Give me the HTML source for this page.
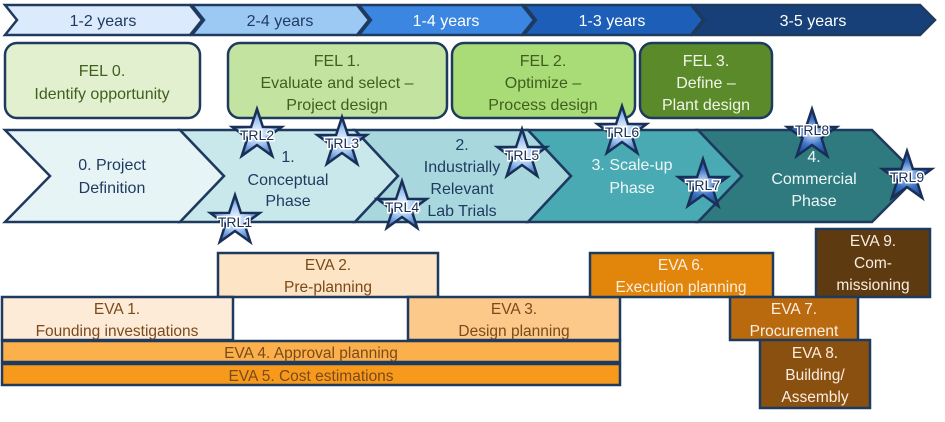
<!DOCTYPE html>
<html><head><meta charset="utf-8"><style>
html,body{margin:0;padding:0;background:#fff}
svg{display:block}
text{font-family:"Liberation Sans",sans-serif}
</style></head><body>
<svg width="945" height="422" viewBox="0 0 945 422" xmlns="http://www.w3.org/2000/svg">
<defs>
<radialGradient id="sg" cx="50%" cy="50%" r="55%">
<stop offset="0" stop-color="#f2f7ff"/><stop offset="0.5" stop-color="#9cc3f0"/><stop offset="1" stop-color="#2d62b8"/>
</radialGradient>
<radialGradient id="sg2" cx="50%" cy="50%" r="55%">
<stop offset="0" stop-color="#dbe8fb"/><stop offset="0.5" stop-color="#3d74c8"/><stop offset="1" stop-color="#163f86"/>
</radialGradient>
<symbol id="star" viewBox="-27 -27 54 54" overflow="visible">
<polygon points="0,-26 5.9,-8.1 24.7,-8 9.5,3.1 15.3,21 0,10 -15.3,21 -9.5,3.1 -24.7,-8 -5.9,-8.1" stroke="#1a2f55" stroke-width="2.5" stroke-linejoin="miter"/>
</symbol>
</defs>
<g stroke="#1f3a5f" stroke-width="2.5" stroke-linejoin="miter">
<!-- top timeline -->
<polygon points="5,5 190,5 202,20 190,35 5,35 17,20" fill="#dbeafc"/>
<polygon points="192,5 357,5 369,20 357,35 192,35 204,20" fill="#9cc8f4"/>
<polygon points="359,5 522,5 534,20 522,35 359,35 371,20" fill="#3a86e0"/>
<polygon points="524,5 691,5 703,20 691,35 524,35 536,20" fill="#1d5fb8"/>
<polygon points="693,5 920,5 935,20 920,35 693,35 705,20" fill="#173f78"/>
<!-- FEL boxes -->
<rect x="5" y="43" width="195" height="75" rx="12" fill="#e2f0cf"/>
<rect x="228" y="43" width="219" height="75" rx="12" fill="#c3e3a0"/>
<rect x="452" y="43" width="183" height="75" rx="12" fill="#a9dc76"/>
<rect x="640" y="43" width="132" height="75" rx="12" fill="#5b8a2a"/>
<!-- phases -->
<polygon points="5,130 180,130 224,176 180,222 5,222 50,176" fill="#e6f4f6"/>
<polygon points="180,130 355,130 398,176 355,222 180,222 224,176" fill="#c8e8ec"/>
<polygon points="355,130 528,130 571,176 528,222 355,222 398,176" fill="#a8d8de"/>
<polygon points="528,130 698,130 742,176 698,222 528,222 571,176" fill="#4aaab4"/>
<polygon points="698,130 872,130 918,176 872,222 698,222 742,176" fill="#2f7a7e"/>
<!-- EVA -->
<rect x="218" y="253" width="220" height="44" fill="#fce4c4"/>
<rect x="2" y="297" width="231" height="43" fill="#fdebd8"/>
<rect x="408" y="297" width="212" height="43" fill="#fcc98a"/>
<rect x="2" y="341" width="618" height="21" fill="#fbb04c"/>
<rect x="2" y="364" width="618" height="21" fill="#f79a1c"/>
<rect x="590" y="253" width="183" height="44" fill="#e2860b"/>
<rect x="816" y="229" width="114" height="68" fill="#5e3a10"/>
<rect x="730" y="297" width="128" height="43" fill="#b96a0f"/>
<rect x="760" y="340" width="110" height="68" fill="#8a5010"/>
</g>
<g font-size="16" text-anchor="middle">
<g fill="#1f3a5f">
<text x="103" y="26">1-2 years</text>
<text x="280" y="26">2-4 years</text>
</g>
<g fill="#fff">
<text x="446" y="26">1-4 years</text>
<text x="612" y="26">1-3 years</text>
<text x="813" y="26">3-5 years</text>
</g>
<g fill="#3f5f1f">
<text x="102" y="76">FEL 0.</text><text x="102" y="99">Identify opportunity</text>
<text x="337" y="66">FEL 1.</text><text x="337" y="88">Evaluate and select –</text><text x="337" y="110">Project design</text>
<text x="543" y="66">FEL 2.</text><text x="543" y="88">Optimize –</text><text x="543" y="110">Process design</text>
</g>
<g fill="#f0f6e6"><text x="706" y="66">FEL 3.</text><text x="706" y="88">Define –</text><text x="706" y="110">Plant design</text></g>
<g fill="#1f3a5f">
<text x="112" y="170">0. Project</text><text x="112" y="193">Definition</text>
<text x="288" y="162">1.</text><text x="288" y="185">Conceptual</text><text x="288" y="206">Phase</text>
<text x="462" y="150">2.</text><text x="462" y="172">Industrially</text><text x="462" y="194">Relevant</text><text x="462" y="216">Lab Trials</text>
</g>
<g fill="#eef7f7">
<text x="632" y="170">3. Scale-up</text><text x="632" y="193">Phase</text>
<text x="814" y="162">4.</text><text x="814" y="184">Commercial</text><text x="814" y="206">Phase</text>
</g>
</g>
<!-- stars -->
<use href="#star" x="208" y="194" width="54" height="54" fill="url(#sg)"/>
<use href="#star" x="230" y="108" width="54" height="54" fill="url(#sg)"/>
<use href="#star" x="315" y="116" width="54" height="54" fill="url(#sg)"/>
<use href="#star" x="375" y="180" width="54" height="54" fill="url(#sg)"/>
<use href="#star" x="495" y="128" width="54" height="54" fill="url(#sg)"/>
<use href="#star" x="595" y="105" width="54" height="54" fill="url(#sg)"/>
<use href="#star" x="676" y="158" width="54" height="54" fill="url(#sg2)"/>
<use href="#star" x="785" y="108" width="54" height="54" fill="url(#sg2)"/>
<use href="#star" x="880" y="150" width="54" height="54" fill="url(#sg2)"/>
<g font-size="14" text-anchor="middle" fill="#1a2f55" stroke="#fff" stroke-width="3" paint-order="stroke">
<text x="235" y="227">TRL1</text>
<text x="257" y="140">TRL2</text>
<text x="342" y="148">TRL3</text>
<text x="402" y="212">TRL4</text>
<text x="522" y="160">TRL5</text>
<text x="622" y="137">TRL6</text>
<text x="703" y="190">TRL7</text>
<text x="812" y="135">TRL8</text>
<text x="907" y="182">TRL9</text>
</g>
<g font-size="15.5" text-anchor="middle">
<g fill="#7a4a1a">
<text x="328" y="270">EVA 2.</text><text x="328" y="292">Pre-planning</text>
<text x="117" y="314">EVA 1.</text><text x="117" y="336">Founding investigations</text>
<text x="514" y="314">EVA 3.</text><text x="514" y="336">Design planning</text>
<text x="311" y="358">EVA 4. Approval planning</text>
<text x="311" y="381">EVA 5. Cost estimations</text>
</g>
<g fill="#fbeee0">
<text x="681" y="270">EVA 6.</text><text x="681" y="292">Execution planning</text>
<text x="873" y="246">EVA 9.</text><text x="873" y="268">Com-</text><text x="873" y="290">missioning</text>
<text x="794" y="314">EVA 7.</text><text x="794" y="336">Procurement</text>
<text x="815" y="358">EVA 8.</text><text x="815" y="380">Building/</text><text x="815" y="402">Assembly</text>
</g>
</g>
</svg>
</body></html>
